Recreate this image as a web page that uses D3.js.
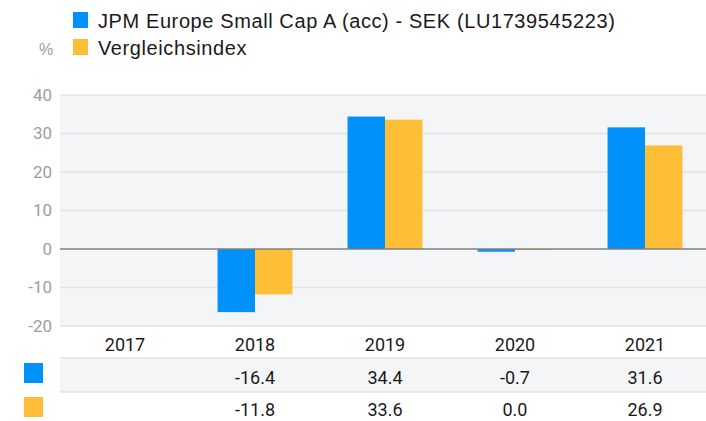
<!DOCTYPE html>
<html>
<head>
<meta charset="utf-8">
<script src="https://cdn.jsdelivr.net/npm/d3@7"></script>
<style>
  html, body { margin: 0; padding: 0; background: #fff; }
  svg { display: block; }
</style>
</head>
<body>
<div id="chart"></div>
<script>
// data
const years = ['2017', '2018', '2019', '2020', '2021'];
const seriesNames = ['JPM Europe Small Cap A (acc) - SEK (LU1739545223)', 'Vergleichsindex'];
const fundValues = [null, -16.4, 34.4, -0.7, 31.6];
const indexValues = [null, -11.8, 33.6, 0.0, 26.9];
const yTicks = [-20, -10, 0, 10, 20, 30, 40];
const colors = ['#0091fa', '#ffbe38'];

const width = 706, height = 421;
const plotLeft = 60, plotRight = 710, plotTop = 95, plotBottom = 326;

const svg = d3.select('#chart').append('svg').attr('width', width).attr('height', height);

const x0 = d3.scaleBand().domain(years).range([plotLeft, plotRight]);
const x1 = d3.scaleBand().domain([0, 1])
    .range([x0.bandwidth() * 0.212, x0.bandwidth() * 0.788]);
const y = d3.scaleLinear().domain([-20, 40]).range([plotBottom, plotTop]);

// plot background
svg.append('rect').attr('x', plotLeft).attr('y', plotTop)
    .attr('width', width - plotLeft).attr('height', plotBottom - plotTop)
    .attr('fill', '#f4f5f7');

// gridlines + tick labels
const yAxis = svg.append('g');
yTicks.forEach(t => {
    if (t !== 0) {
        yAxis.append('line').attr('x1', plotLeft).attr('x2', width)
            .attr('y1', y(t)).attr('y2', y(t))
            .attr('stroke', '#e2e3e6').attr('stroke-width', 1.5);
    }
    yAxis.append('text').attr('x', 52).attr('y', y(t)).attr('dy', '0.35em')
        .attr('text-anchor', 'end')
        .style('font-family', 'Roboto, "Liberation Sans", sans-serif')
        .style('font-size', '17px').style('fill', '#9d9d9d')
        .text(t);
});

// bars
const series = [fundValues, indexValues];
series.forEach((vals, si) => {
    svg.append('g').selectAll('rect')
        .data(years.map((yr, i) => ({ yr, v: vals[i] })).filter(d => d.v !== null))
        .enter().append('rect')
        .attr('x', d => x0(d.yr) + x1(si))
        .attr('width', x1.bandwidth())
        .attr('y', d => Math.min(y(d.v), y(0)))
        .attr('height', d => Math.max(1, Math.abs(y(d.v) - y(0))))
        .attr('fill', colors[si]);
});

// zero line
svg.append('line').attr('x1', plotLeft).attr('x2', width)
    .attr('y1', y(0)).attr('y2', y(0))
    .attr('stroke', '#808080').attr('stroke-width', 1.5);

// legend
const legend = svg.append('g');
seriesNames.forEach((name, i) => {
    legend.append('rect').attr('x', 73).attr('y', 12 + i * 27)
        .attr('width', 15).attr('height', 16).attr('fill', colors[i]);
    legend.append('text').attr('x', 98).attr('y', 28 + i * 26.5)
        .style('font-family', '"Liberation Sans", Arial, sans-serif')
        .style('font-size', '20px').style('letter-spacing', '0.6px').style('fill', '#1a1a1a')
        .text(name);
});
svg.append('text').attr('x', 39).attr('y', 55)
    .style('font-family', '"Liberation Sans", Arial, sans-serif')
    .style('font-size', '16px').style('fill', '#9d9d9d').text('%');

// table under chart
const tableFont = 'Roboto, "Liberation Sans", sans-serif';
svg.append('rect').attr('x', plotLeft).attr('y', 358).attr('width', width - plotLeft).attr('height', 34)
    .attr('fill', '#f4f5f7');
[358, 392].forEach(ly => {
    svg.append('line').attr('x1', plotLeft).attr('x2', width).attr('y1', ly).attr('y2', ly)
        .attr('stroke', '#e2e3e6').attr('stroke-width', 1.5);
});

svg.append('g').selectAll('text').data(years).enter().append('text')
    .attr('x', d => x0(d) + x0.bandwidth() / 2).attr('y', 351)
    .attr('text-anchor', 'middle')
    .style('font-family', tableFont).style('font-size', '18px').style('fill', '#1a1a1a')
    .text(d => d);

const rowY = [384, 416];
series.forEach((vals, si) => {
    svg.append('rect').attr('x', 24).attr('y', 363 + si * 34).attr('width', 19).attr('height', 20)
        .attr('fill', colors[si]);
    svg.append('g').selectAll('text')
        .data(years.map((yr, i) => ({ yr, v: vals[i] })).filter(d => d.v !== null))
        .enter().append('text')
        .attr('x', d => x0(d.yr) + x0.bandwidth() / 2).attr('y', rowY[si])
        .attr('text-anchor', 'middle')
        .style('font-family', tableFont).style('font-size', '18px').style('fill', '#1a1a1a')
        .text(d => d.v.toFixed(1));
});
</script>
</body>
</html>
